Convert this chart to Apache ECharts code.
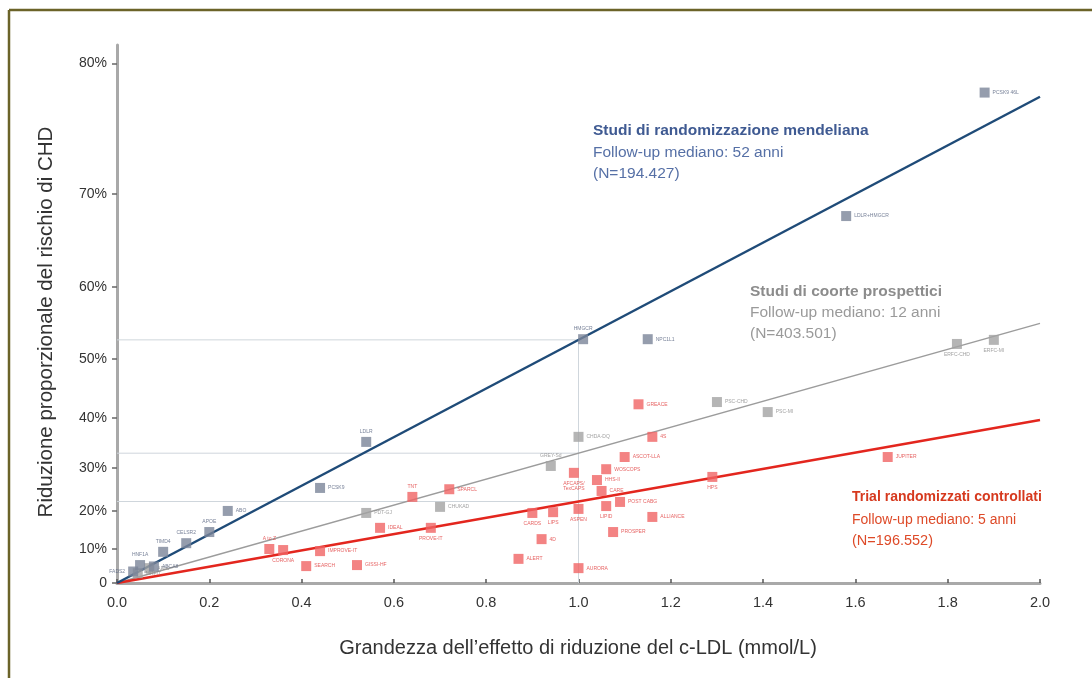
<!DOCTYPE html>
<html>
<head>
<meta charset="utf-8">
<script src="https://cdn.jsdelivr.net/npm/echarts@6/dist/echarts.min.js"></script>
<style>
  html, body { margin: 0; padding: 0; background: #fff; }
  #chart { width: 1092px; height: 678px; }
</style>
</head>
<body>
<div id="chart"></div>
<script>
// Riduzione del c-LDL (mmol/L) e riduzione proporzionale del rischio di CHD (%)

// Studi di randomizzazione mendeliana
const mrNames = ['PCSK9 46L', 'LDLR+HMGCR', 'HMGCR', 'NPC1L1', 'LDLR', 'PCSK9', 'ABO', 'APOE', 'CELSR2', 'TIMD4', 'HNF1A', 'ABCA8', 'FADS2'];
const mrLdl   = [1.88, 1.58, 1.01, 1.15, 0.54, 0.44, 0.24, 0.20, 0.15, 0.10, 0.05, 0.08, 0.035];
const mrRisk  = [78.1, 67.9, 53.0, 53.0, 35.4, 25.5, 20.0, 14.6, 11.6, 9.2, 5.4, 5.0, 3.5];

// Studi di coorte prospettici
const cohortNames = ['ERFC-MI', 'ERFC-CHD', 'PSC-CHD', 'PSC-MI', 'CHDA-DQ', 'GREY-Sd', 'CHUKAD', 'PDT-GJ', 'HHS', 'ARIC', 'MRFIT'];
const cohortLdl   = [1.90, 1.82, 1.30, 1.41, 1.00, 0.94, 0.70, 0.54, 0.23, 0.07, 0.045];
const cohortRisk  = [52.9, 52.3, 42.9, 41.1, 36.4, 30.4, 21.0, 19.5, 0.0, 4.5, 3.0];

// Trial randomizzati controllati
const trialNames = ['GREACE', '4S', 'ASCOT-LLA', 'WOSCOPS', 'AFCAPS/\nTexCAPS', 'HHS-II', 'CARE', 'POST CABG', 'LIPID', 'ALLIANCE', 'PROSPER',
  'HPS', 'JUPITER', 'TNT', 'SPARCL', 'IDEAL', 'PROVE-IT', 'CARDS', 'LIPS', 'ASPEN', '4D', 'ALERT', 'AURORA',
  'A to Z', 'CORONA', 'IMPROVE-IT', 'SEARCH', 'GISSI-HF'];
const trialLdl  = [1.13, 1.16, 1.10, 1.06, 0.99, 1.04, 1.05, 1.09, 1.06, 1.16, 1.075,
  1.29, 1.67, 0.64, 0.72, 0.57, 0.68, 0.90, 0.945, 1.00, 0.92, 0.87, 1.00,
  0.33, 0.36, 0.44, 0.41, 0.52];
const trialRisk = [42.5, 36.4, 32.3, 29.7, 28.9, 27.3, 24.8, 22.2, 21.2, 18.5, 14.6,
  28.0, 32.3, 23.4, 25.2, 15.7, 15.7, 19.5, 19.7, 20.5, 12.7, 7.2, 4.5,
  10.0, 9.7, 9.4, 5.1, 5.4];

// Riduzione del rischio per 1 mmol/L di c-LDL (%), per ciascun tipo di studio
const slopeRisk = { mr: 52.9, cohort: 33.1, trial: 22.3 };

// Etichette dell'asse y (%)
const yTickPct = [0, 10, 20, 30, 40, 50, 60, 70, 80];
const yTickLabels = ['0', '10%', '20%', '30%', '40%', '50%', '60%', '70%', '80%'];

// Lato dell'etichetta di ciascun punto
const labelSide = {
  'HMGCR': 'top', 'LDLR': 'top', 'APOE': 'top', 'CELSR2': 'top', 'TIMD4': 'top', 'HNF1A': 'top', 'FADS2': 'left',
  'ERFC-MI': 'bottom', 'ERFC-CHD': 'bottom', 'GREY-Sd': 'top', 'HHS': 'top',
  'AFCAPS/\nTexCAPS': 'bottom', 'LIPID': 'bottom', 'HPS': 'bottom', 'TNT': 'top', 'PROVE-IT': 'bottom',
  'CARDS': 'bottom', 'LIPS': 'bottom', 'ASPEN': 'bottom', 'A to Z': 'top', 'CORONA': 'bottom'
};

// Scala di rischio: -ln(1 - riduzione)
const toLog = p => -Math.log(1 - p / 100);

function points(names, ldl, risk) {
  return names.map((n, i) => {
    const item = {
      name: n,
      value: [ldl[i], toLog(risk[i])],
      label: { position: labelSide[n] || 'right' }
    };
    if (risk[i] === 0) item.itemStyle = { opacity: 0 };
    return item;
  });
}

function fitLine(pct) {
  return [[0, 0], [2, 2 * toLog(pct)]];
}

const chart = echarts.init(document.getElementById('chart'), null, { renderer: 'canvas' });

const FONT = '"Liberation Sans", Arial, Helvetica, sans-serif';
const scatterLabel = col => ({
  show: true, formatter: '{b}', fontSize: 5, color: col, fontFamily: FONT, distance: 3
});

const guideStyle = { color: '#cfd6dc', width: 1 };
const mrAtOne = toLog(slopeRisk.mr);

function note(x, y, text, weight, fill, size) {
  return { type: 'text', x: x, y: y, z: 10,
    style: { text: text, font: weight + ' ' + (size || 15.5) + 'px ' + FONT, fill: fill, verticalAlign: 'middle' } };
}

chart.setOption({
  animation: false,
  backgroundColor: '#ffffff',
  grid: { left: 117, right: 52, top: 45, bottom: 95, containLabel: false },
  xAxis: {
    type: 'value', min: 0, max: 2, interval: 0.2,
    axisLine: { lineStyle: { color: '#a9a9a9', width: 3 } },
    axisTick: { show: true, inside: true, length: 4, lineStyle: { color: '#555', width: 1.5 } },
    axisLabel: { fontSize: 14.5, color: '#333', fontFamily: FONT, margin: 12,
      formatter: v => v.toFixed(1) },
    splitLine: { show: false }
  },
  yAxis: {
    type: 'value', min: 0, max: 1.666,
    axisLine: { show: true, lineStyle: { color: '#a9a9a9', width: 3 } },
    axisTick: { show: true, length: 5, customValues: yTickPct.map(toLog),
      lineStyle: { color: '#666', width: 1.5 } },
    axisLabel: {
      fontSize: 14, color: '#333', fontFamily: FONT, margin: 10,
      customValues: yTickPct.map(toLog),
      formatter: v => {
        const i = yTickPct.findIndex(p => Math.abs(toLog(p) - v) < 1e-6);
        return i >= 0 ? yTickLabels[i] : '';
      }
    },
    splitLine: { show: false }
  },
  graphic: [
    // cornice della figura
    { type: 'line', shape: { x1: 9, y1: 10, x2: 1092, y2: 10 }, style: { stroke: '#6b6329', lineWidth: 2.5 }, z: 10 },
    { type: 'line', shape: { x1: 9, y1: 10, x2: 9, y2: 678 }, style: { stroke: '#6b6329', lineWidth: 2.5 }, z: 10 },
    // titoli degli assi
    { type: 'text', x: 578, y: 648, z: 10,
      style: { text: 'Grandezza dell\u2019effetto di riduzione del c-LDL (mmol/L)', font: '20px ' + FONT,
        fill: '#333', align: 'center', verticalAlign: 'middle' } },
    { type: 'text', x: 46, y: 322, rotation: Math.PI / 2, z: 10,
      style: { text: 'Riduzione proporzionale del rischio di CHD', font: '20.5px ' + FONT,
        fill: '#333', align: 'center', verticalAlign: 'middle' } },
    // riquadri descrittivi
    note(593, 131, 'Studi di randomizzazione mendeliana', 'bold', '#3f5a92'),
    note(593, 153, 'Follow-up mediano: 52 anni', 'normal', '#5670a6'),
    note(593, 174, '(N=194.427)', 'normal', '#5670a6'),
    note(750, 292, 'Studi di coorte prospettici', 'bold', '#8c8c8c'),
    note(750, 313, 'Follow-up mediano: 12 anni', 'normal', '#9a9a9a'),
    note(750, 334, '(N=403.501)', 'normal', '#9a9a9a'),
    note(852, 497, 'Trial randomizzati controllati', 'bold', '#d6391e', 14),
    note(852, 520, 'Follow-up mediano: 5 anni', 'normal', '#de4a28', 14),
    note(852, 541, '(N=196.552)', 'normal', '#de4a28', 14.5)
  ],
  series: [
    // linee guida a 1 mmol/L
    { type: 'line', silent: true, symbol: 'none', z: 1, lineStyle: guideStyle,
      data: [[0, mrAtOne], [1, mrAtOne], [1, 0]] },
    { type: 'line', silent: true, symbol: 'none', z: 1, lineStyle: guideStyle,
      data: [[0, toLog(slopeRisk.cohort)], [1, toLog(slopeRisk.cohort)]] },
    { type: 'line', silent: true, symbol: 'none', z: 1, lineStyle: guideStyle,
      data: [[0, toLog(slopeRisk.trial)], [1, toLog(slopeRisk.trial)]] },
    // rette di regressione
    { type: 'line', silent: true, symbol: 'none', z: 3, lineStyle: { color: '#9c9c9c', width: 1.5 },
      data: fitLine(slopeRisk.cohort) },
    { type: 'line', silent: true, symbol: 'none', z: 3, lineStyle: { color: '#e3261e', width: 2.5 },
      data: fitLine(slopeRisk.trial) },
    { type: 'line', silent: true, symbol: 'none', z: 3, lineStyle: { color: '#1f4b78', width: 2.5 },
      data: fitLine(slopeRisk.mr) },
    // punti degli studi
    { type: 'scatter', name: 'Coorte', symbol: 'rect', symbolSize: 10, z: 4,
      itemStyle: { color: '#a3a3a3' }, label: scatterLabel('#8a8a8a'),
      data: points(cohortNames, cohortLdl, cohortRisk) },
    { type: 'scatter', name: 'Trial', symbol: 'rect', symbolSize: 10, z: 4,
      itemStyle: { color: '#f06464' }, label: scatterLabel('#e03a3a'),
      data: points(trialNames, trialLdl, trialRisk) },
    { type: 'scatter', name: 'MR', symbol: 'rect', symbolSize: 10, z: 5,
      itemStyle: { color: '#7a8498' }, label: scatterLabel('#55627e'),
      data: points(mrNames, mrLdl, mrRisk) }
  ]
});
</script>
</body>
</html>
